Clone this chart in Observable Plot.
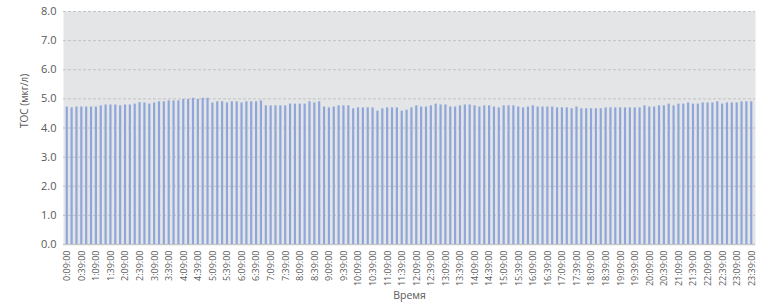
<!DOCTYPE html>
<html><head><meta charset="utf-8">
<script src="https://cdn.jsdelivr.net/npm/d3@7"></script>
<script src="https://cdn.jsdelivr.net/npm/@observablehq/plot@0.6"></script>
<style>body{margin:0;background:#fff;}</style>
</head><body><div id="chart"></div>
<script>
const times = [
"0:09:00","0:19:00","0:29:00","0:39:00","0:49:00","0:59:00",
"1:09:00","1:19:00","1:29:00","1:39:00","1:49:00","1:59:00",
"2:09:00","2:19:00","2:29:00","2:39:00","2:49:00","2:59:00",
"3:09:00","3:19:00","3:29:00","3:39:00","3:49:00","3:59:00",
"4:09:00","4:19:00","4:29:00","4:39:00","4:49:00","4:59:00",
"5:09:00","5:19:00","5:29:00","5:39:00","5:49:00","5:59:00",
"6:09:00","6:19:00","6:29:00","6:39:00","6:49:00","6:59:00",
"7:09:00","7:19:00","7:29:00","7:39:00","7:49:00","7:59:00",
"8:09:00","8:19:00","8:29:00","8:39:00","8:49:00","8:59:00",
"9:09:00","9:19:00","9:29:00","9:39:00","9:49:00","9:59:00",
"10:09:00","10:19:00","10:29:00","10:39:00","10:49:00","10:59:00",
"11:09:00","11:19:00","11:29:00","11:39:00","11:49:00","11:59:00",
"12:09:00","12:19:00","12:29:00","12:39:00","12:49:00","12:59:00",
"13:09:00","13:19:00","13:29:00","13:39:00","13:49:00","13:59:00",
"14:09:00","14:19:00","14:29:00","14:39:00","14:49:00","14:59:00",
"15:09:00","15:19:00","15:29:00","15:39:00","15:49:00","15:59:00",
"16:09:00","16:19:00","16:29:00","16:39:00","16:49:00","16:59:00",
"17:09:00","17:19:00","17:29:00","17:39:00","17:49:00","17:59:00",
"18:09:00","18:19:00","18:29:00","18:39:00","18:49:00","18:59:00",
"19:09:00","19:19:00","19:29:00","19:39:00","19:49:00","19:59:00",
"20:09:00","20:19:00","20:29:00","20:39:00","20:49:00","20:59:00",
"21:09:00","21:19:00","21:29:00","21:39:00","21:49:00","21:59:00",
"22:09:00","22:19:00","22:29:00","22:39:00","22:49:00","22:59:00",
"23:09:00","23:19:00","23:29:00","23:39:00"
];
const toc = [
4.72,4.69,4.72,4.72,4.72,4.72,4.72,4.76,4.79,4.79,4.79,4.76,4.79,4.79,4.82,4.87,4.86,4.82,4.86,4.90,4.90,4.93,4.93,4.93,
4.98,4.98,5.02,4.98,5.02,5.02,4.86,4.90,4.90,4.86,4.90,4.90,4.86,4.90,4.90,4.90,4.93,4.76,4.76,4.76,4.76,4.76,4.82,4.82,
4.82,4.82,4.90,4.86,4.90,4.72,4.69,4.72,4.76,4.76,4.76,4.66,4.69,4.69,4.69,4.69,4.58,4.66,4.69,4.69,4.69,4.58,4.61,4.69,
4.76,4.72,4.72,4.76,4.82,4.79,4.79,4.72,4.72,4.76,4.79,4.79,4.76,4.72,4.76,4.76,4.72,4.69,4.76,4.76,4.76,4.72,4.69,4.72,4.76,
4.72,4.72,4.72,4.72,4.69,4.69,4.69,4.66,4.72,4.66,4.66,4.66,4.66,4.66,4.69,4.69,4.69,4.69,4.69,4.69,4.69,4.69,4.76,4.72,4.72,
4.76,4.76,4.82,4.76,4.82,4.82,4.86,4.82,4.82,4.86,4.86,4.86,4.90,4.82,4.86,4.86,4.86,4.90,4.90,4.90
];
const tickLabels = [
"0:09:00","0:39:00","1:09:00","1:39:00","2:09:00","2:39:00","3:09:00","3:39:00",
"4:09:00","4:39:00","5:09:00","5:39:00","6:09:00","6:39:00","7:09:00","7:39:00",
"8:09:00","8:39:00","9:09:00","9:39:00","10:09:00","10:39:00","11:09:00","11:39:00",
"12:09:00","12:39:00","13:09:00","13:39:00","14:09:00","14:39:00","15:09:00","15:39:00",
"16:09:00","16:39:00","17:09:00","17:39:00","18:09:00","18:39:00","19:09:00","19:39:00",
"20:09:00","20:39:00","21:09:00","21:39:00","22:09:00","22:39:00","23:09:00","23:39:00"
];
const yTicks = [0,1,2,3,4,5,6,7,8];
const yTitle = "TOC (мкг/л)";
const xTitle = "Время";

const data = times.map((t, i) => ({t, v: toc[i]}));

const chart = Plot.plot({
  width: 783, height: 308,
  marginLeft: 63, marginRight: 28, marginTop: 11, marginBottom: 64,
  style: {fontFamily: "'Open Sans', sans-serif", fontSize: "10px", color: "#595959", background: "#fff", overflow: "visible"},
  x: {type: "band", domain: times, padding: 0.55, label: null},
  y: {domain: [0, 8], label: null},
  marks: [
    Plot.frame({fill: "#e4e5e7", stroke: null}),
    Plot.ruleY(yTicks.filter(d => d > 0), {stroke: "#c3c3c3", strokeDasharray: "3,2", strokeWidth: 1}),
    Plot.ruleY([0], {stroke: "#c8c8c8", strokeWidth: 1.5}),
    Plot.barY(data, {x: "t", y: "v", fill: "#8fa6d9"}),
    Plot.axisY({ticks: yTicks, tickFormat: d3.format(".1f"), tickSize: 0, tickPadding: 7, fontSize: 11, label: null}),
    Plot.axisX({ticks: tickLabels, tickSize: 0, tickPadding: 6, tickRotate: -90, fontSize: 9, label: null}),
    Plot.text([yTitle], {frameAnchor: "left", dx: -39, rotate: -90, fontSize: 10, fill: "#595959"}),
    Plot.text([xTitle], {frameAnchor: "bottom", dy: 54, fontSize: 10.5, fill: "#595959"})
  ]
});
document.getElementById("chart").append(chart);
</script>
</body></html>
